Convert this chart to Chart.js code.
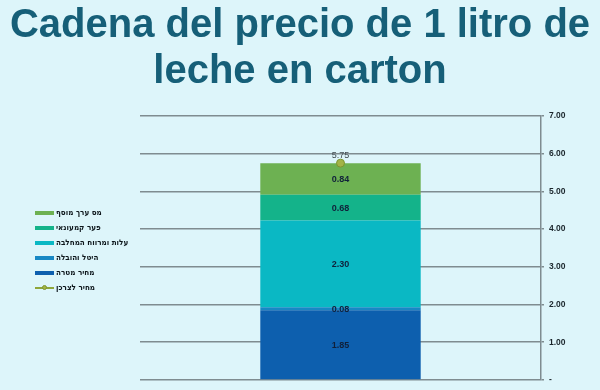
<!DOCTYPE html>
<html>
<head>
<meta charset="utf-8">
<script src="https://cdn.jsdelivr.net/npm/chart.js@4.4.1/dist/chart.umd.min.js"></script>
<style>
  html, body { margin: 0; padding: 0; background: #ddf5fa; }
  #wrap { position: relative; width: 600px; height: 390px; overflow: hidden; }
  #c { position: absolute; left: 0; top: 0; }
  #title { position: absolute; left: 0; top: 0; width: 600px; text-align: center; font-family: "Liberation Sans", Arial, sans-serif; font-weight: bold; font-size: 40px; line-height: 46px; color: #165f78; white-space: nowrap; }
  #legend { position: absolute; left: 35px; top: 205px; font-family: "DejaVu Sans Condensed", "DejaVu Sans", sans-serif; font-weight: bold; font-size: 8px; color: #0d161b; }
  .row { display: flex; align-items: center; height: 15px; }
  .sw { width: 19px; height: 4px; margin-right: 2px; position: relative; }
  .ln { width: 19px; height: 2px; margin-right: 2px; position: relative; }
  .ln::after { content: ""; position: absolute; left: 7px; top: -2px; width: 5px; height: 5px; border-radius: 50%; background: #a3b347; border: 1px solid #7b9530; box-sizing: border-box; }
</style>
</head>
<body>
<div id="wrap">
  <canvas id="c" width="600" height="390"></canvas>
  <div id="title"></div>
  <div id="legend"></div>
</div>
<script>
const titleLines = ['Cadena del precio de 1 litro de', 'leche en carton'];
const categories = [''];
const seriesNames = ['מחיר מטרה', 'היטל והובלה', 'עלות ומרווח המחלבה', 'פער קמעונאי', 'מס ערך מוסף'];
const seriesValues = [[1.85], [0.08], [2.30], [0.68], [0.84]];
const seriesColors = ['#0d5fae', '#1788c4', '#0ab8c4', '#14b38a', '#6db152'];
const lineName = 'מחיר לצרכן';
const lineValues = [5.75];
const lineColor = '#8ea63a';
const yTicks = [0, 1, 2, 3, 4, 5, 6, 7];

const titleEl = document.getElementById('title');
titleLines.forEach(l => { const d = document.createElement('div'); d.textContent = l; titleEl.appendChild(d); });

// HTML legend (top to bottom: reversed stack order, then line)
const legendEl = document.getElementById('legend');
for (let i = seriesNames.length - 1; i >= 0; i--) {
  const r = document.createElement('div'); r.className = 'row';
  const s = document.createElement('div'); s.className = 'sw'; s.style.background = seriesColors[i];
  const t = document.createElement('span'); t.textContent = seriesNames[i];
  r.appendChild(s); r.appendChild(t); legendEl.appendChild(r);
}
{
  const r = document.createElement('div'); r.className = 'row';
  const s = document.createElement('div'); s.className = 'ln'; s.style.background = lineColor;
  const t = document.createElement('span'); t.textContent = lineName;
  r.appendChild(s); r.appendChild(t); legendEl.appendChild(r);
}

const datasets = seriesNames.map((n, i) => ({
  type: 'bar', label: n, data: seriesValues[i], backgroundColor: seriesColors[i],
  borderWidth: 0, stack: 'a', order: 2,
  categoryPercentage: 1, barPercentage: 0.4
}));
datasets.push({
  type: 'line', label: lineName, data: lineValues, stack: 'line', order: 1,
  borderColor: lineColor, backgroundColor: '#a3b347', pointBorderColor: '#7b9530',
  pointRadius: 4, pointBorderWidth: 1, showLine: false
});

const labelPlugin = {
  id: 'vals',
  afterDatasetsDraw(chart) {
    const ctx = chart.ctx;
    ctx.save();
    ctx.textAlign = 'center';
    ctx.textBaseline = 'middle';
    chart.data.datasets.forEach((ds, i) => {
      const meta = chart.getDatasetMeta(i);
      meta.data.forEach((el, j) => {
        const v = ds.data[j];
        if (ds.type === 'bar') {
          ctx.font = 'bold 9px "Liberation Sans", Arial, sans-serif';
          ctx.fillStyle = '#10203a';
          ctx.fillText(v.toFixed(2), el.x, (el.y + el.base) / 2 + 1);
        } else {
          ctx.font = '9px "Liberation Sans", Arial, sans-serif';
          ctx.fillStyle = '#404a50';
          ctx.fillText(v.toFixed(2), el.x, el.y - 8);
        }
      });
    });
    ctx.restore();
  }
};

new Chart(document.getElementById('c'), {
  data: { labels: categories, datasets },
  options: {
    responsive: false,
    animation: false,
    layout: { padding: { left: 140, right: 0, top: 116, bottom: 8 } },
    plugins: {
      legend: { display: false },
      tooltip: { enabled: false },
      title: { display: false }
    },
    scales: {
      x: { stacked: true, display: false },
      y: {
        stacked: true, position: 'right', min: 0, max: 7,
        afterBuildTicks(s) { s.ticks = yTicks.map(v => ({ value: v })); },
        afterFit(s) { s.width = 59; },
        border: { display: true, color: '#7f8c90', width: 1.5 },
        grid: { color: '#7f8c90', lineWidth: 1.5, tickLength: 3, drawTicks: true },
        ticks: {
          padding: 5, color: '#1a252b',
          font: { family: '"Liberation Sans", Arial, sans-serif', size: 8.5, weight: 'bold' },
          callback: (v) => v === 0 ? '-' : Number(v).toFixed(2)
        }
      }
    }
  },
  plugins: [labelPlugin]
});
</script>
</body>
</html>
